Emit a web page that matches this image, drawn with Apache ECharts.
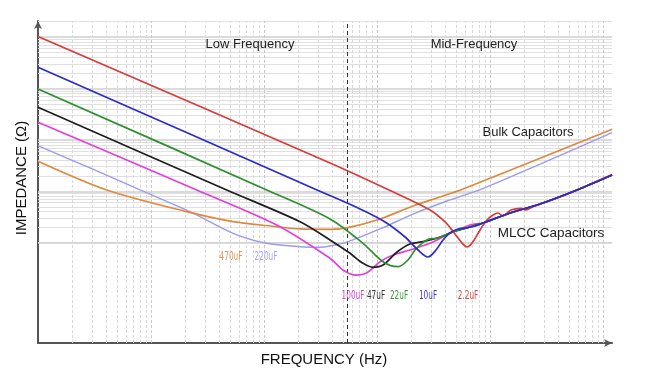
<!DOCTYPE html>
<html><head><meta charset="utf-8">
<script src="https://cdn.jsdelivr.net/npm/echarts@6/dist/echarts.min.js"></script>
<style>html,body{margin:0;padding:0;background:#fff}#c{width:660px;height:382px}</style>
</head><body><div id="c"></div>
<script>
// Frequency (Hz) and impedance (ohm) values, per capacitor
const f2u2 = [100, 38370, 127700, 294400, 400000, 490000, 565000, 625000, 693000, 816000, 940000, 1064000, 1178000, 1303000, 1535000, 1880000, 2083000, 2403000, 4160000, 5887000, 12020000];
const z2u2 = [102, 0.356, 0.106, 0.0433, 0.0253, 0.0148, 0.00986, 0.00825, 0.00986, 0.0177, 0.0277, 0.0346, 0.0378, 0.0331, 0.0433, 0.0467, 0.0433, 0.0501, 0.0775, 0.106, 0.212];

const f10u = [100, 29450, 70790, 117800, 177000, 230600, 282700, 332700, 384100, 442700, 521000, 613400, 736800, 867000, 1503000, 2768000, 5887000, 12020000];
const z10u = [25.8, 0.106, 0.0453, 0.0253, 0.0129, 0.00721, 0.00527, 0.00721, 0.0113, 0.0155, 0.0185, 0.0193, 0.0211, 0.0242, 0.0378, 0.0566, 0.106, 0.207];

const f22u = [100, 10570, 38370, 75200, 113000, 153500, 188000, 216900, 250000, 282700, 339600, 400000, 490200, 665000, 867000, 1503000, 2768000, 5887000, 12020000];
const z22u = [9.77, 0.106, 0.029, 0.00973, 0.00427, 0.00341, 0.00461, 0.00721, 0.00973, 0.01164, 0.0122, 0.0141, 0.0169, 0.0202, 0.0242, 0.0378, 0.0566, 0.106, 0.207];

const f47u = [100, 4677, 20830, 38370, 57680, 75200, 92200, 113000, 150300, 195900, 255400, 313100, 384100, 490200, 665000, 867000, 1503000, 2768000, 5887000, 12020000];
const z47u = [4.30, 0.106, 0.0256, 0.0113, 0.00622, 0.00397, 0.00332, 0.00368, 0.00659, 0.00944, 0.0105, 0.01164, 0.0135, 0.0169, 0.0202, 0.0242, 0.0378, 0.0566, 0.106, 0.207];

const f100u = [100, 2537, 12950, 38370, 50000, 63830, 81600, 106400, 138600, 195900, 294400, 442700, 665000, 867000, 1503000, 2768000, 5887000, 12020000];
const z100u = [2.20, 0.106, 0.0221, 0.00497, 0.00294, 0.00235, 0.00261, 0.00427, 0.00577, 0.00721, 0.00973, 0.01524, 0.0221, 0.0242, 0.0378, 0.0566, 0.106, 0.207];

const f220u = [100, 288.5, 800, 2213, 5318, 10570, 20830, 31330, 38370, 55350, 106400, 208300, 416000, 849700, 12020000];
const z220u = [0.771, 0.284, 0.106, 0.0401, 0.01524, 0.00973, 0.00836, 0.00814, 0.00863, 0.0105, 0.0185, 0.0361, 0.0647, 0.111, 1.38];

const f470u = [100, 405.5, 2070, 5348, 12950, 20830, 38370, 55350, 106400, 208300, 361300, 577000, 12020000];
const z470u = [0.384, 0.106, 0.0401, 0.0256, 0.0205, 0.0185, 0.0182, 0.0196, 0.0289, 0.0518, 0.0775, 0.111, 1.61];

const capLabels = ['470uF', '220uF', '100uF', '47uF', '22uF', '10uF', '2.2uF'];
const dividerFreq = 55000;
const xMin = 100, xMax = 1.2e7, yMin = 1.12e-4, yMax = 205;

const pair = (f, z) => f.map((v, i) => [v, z[i]]);

// log grid lines
const vLines = [], hLines = [];
for (let k = 2; k <= 7; k++) for (let m = 1; m <= 9; m++) {
  const v = m * Math.pow(10, k);
  if (v > xMin && v <= xMax) vLines.push({ xAxis: v, lineStyle: { color: m === 1 ? '#c8c8c8' : '#d9d9d9', type: [3, 2], width: 1 } });
}
for (let k = -4; k <= 2; k++) for (let m = 1; m <= 9; m++) {
  const v = m * Math.pow(10, k);
  if (v > yMin && v <= yMax) hLines.push({ yAxis: v, lineStyle: { color: m === 1 ? '#cfcfcf' : '#e0e0e0', type: 'solid', width: m === 1 ? 1.5 : 1 } });
}

const lineSeries = (name, f, z, color, width) => ({
  name, type: 'line', data: pair(f, z), smooth: 0.3, showSymbol: false, symbol: 'none',
  lineStyle: { color, width }, silent: true, animation: false, z: 10
});

const chart = echarts.init(document.getElementById('c'), null, { renderer: 'canvas' });
const capFont = "'Liberation Sans Narrow','DejaVu Sans Condensed',sans-serif";
const mainFont = "'Liberation Sans', Arial, sans-serif";
const txt = (text, x, y, size, color, extra) => Object.assign({
  type: 'text', x, y, z: 100, silent: true,
  style: { text, fontSize: size, fontFamily: mainFont, fill: color, textAlign: 'center', textVerticalAlign: 'middle', align: 'center', verticalAlign: 'middle' }
}, extra || {});
const capTxt = (text, x, color) => ({
  type: 'text', x, y: 296, z: 100, scaleX: 0.68, silent: true,
  style: { text, fontSize: 12, fontFamily: capFont, fill: color, textAlign: 'center', textVerticalAlign: 'middle', align: 'center', verticalAlign: 'middle' }
});

chart.setOption({
  animation: false,
  backgroundColor: '#ffffff',
  grid: { left: 38, right: 48, top: 21, bottom: 39 },
  xAxis: {
    type: 'log', min: xMin, max: xMax, logBase: 10,
    axisLine: { show: true, onZero: false, lineStyle: { color: '#555', width: 2 }, symbol: ['none', 'arrow'], symbolSize: [6, 8] },
    axisTick: { show: false }, axisLabel: { show: false }, splitLine: { show: false }
  },
  yAxis: {
    type: 'log', min: yMin, max: yMax, logBase: 10,
    axisLine: { show: true, onZero: false, lineStyle: { color: '#555', width: 2 }, symbol: ['none', 'arrow'], symbolSize: [6, 8] },
    axisTick: { show: false }, axisLabel: { show: false }, splitLine: { show: false }
  },
  series: [
    {
      type: 'line', data: [[1000, 1]], symbol: 'none', showSymbol: false, lineStyle: { opacity: 0 }, silent: true, z: 1,
      markLine: { z: 1, silent: true, symbol: 'none', animation: false, label: { show: false }, data: hLines.concat(vLines) }
    },
    {
      type: 'line', data: [[1000, 1]], symbol: 'none', showSymbol: false, lineStyle: { opacity: 0 }, silent: true, z: 2,
      markLine: { z: 2, silent: true, symbol: 'none', animation: false, label: { show: false },
        data: [{ xAxis: dividerFreq, lineStyle: { color: '#333', type: [4, 3], width: 1 } }] }
    },
    lineSeries('220uF', f220u, z220u, '#9c9cea', 1.4),
    lineSeries('470uF', f470u, z470u, '#e0883e', 1.7),
    lineSeries('100uF', f100u, z100u, '#e23fdc', 1.7),
    lineSeries('47uF', f47u, z47u, '#1e1e1e', 1.7),
    lineSeries('22uF', f22u, z22u, '#2f8f2f', 1.7),
    lineSeries('2.2uF', f2u2, z2u2, '#d93a3a', 1.7),
    lineSeries('10uF', f10u, z10u, '#2b2bc8', 1.7)
  ],
  graphic: [
    txt('Low Frequency', 250, 44, 13, '#222'),
    txt('Mid-Frequency', 474, 44, 13, '#222'),
    txt('Bulk Capacitors', 528, 132, 13, '#222'),
    txt('MLCC Capacitors', 551, 233, 13.5, '#222'),
    txt('FREQUENCY (Hz)', 324, 360, 15, '#111'),
    txt('IMPEDANCE (Ω)', 22, 178, 15, '#111', { rotation: Math.PI / 2 }),
    Object.assign(capTxt(capLabels[0], 231, '#e0945a'), { y: 257 }),
    Object.assign(capTxt(capLabels[1], 266, '#a4a4ec'), { y: 257 }),
    capTxt(capLabels[2], 353, '#d64ad2'),
    capTxt(capLabels[3], 376, '#333333'),
    capTxt(capLabels[4], 399, '#3a9a3a'),
    capTxt(capLabels[5], 428, '#3a3ad0'),
    capTxt(capLabels[6], 468, '#e04848')
  ]
});
</script></body></html>
